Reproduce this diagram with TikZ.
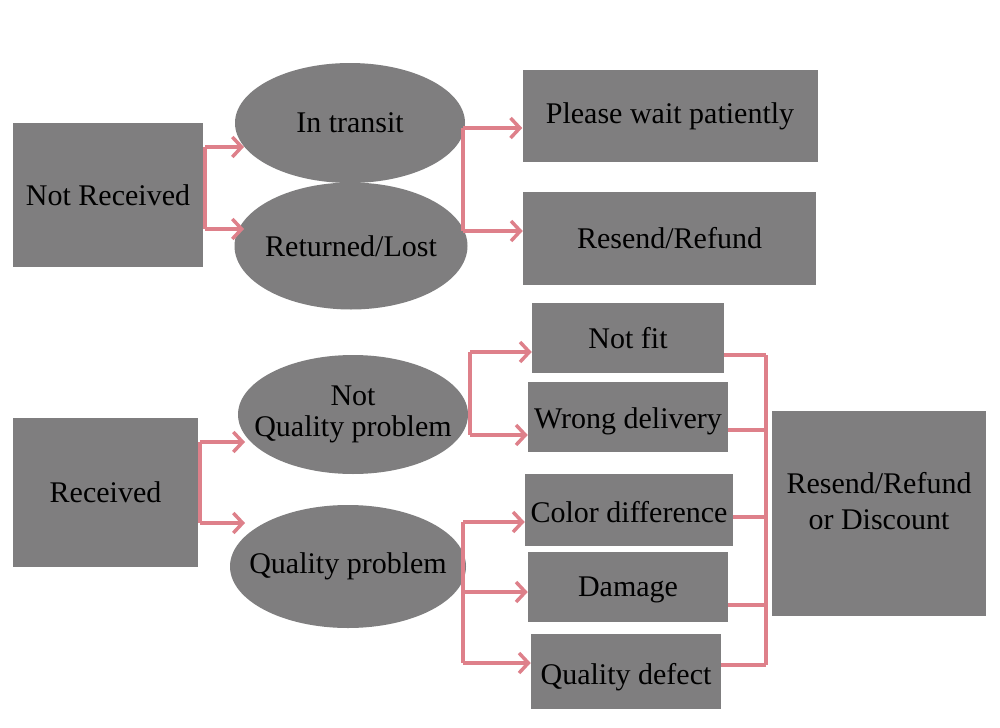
\documentclass[tikz,border=0pt]{standalone}
\usepackage{fontspec}
\setmainfont{Liberation Serif}
\usetikzlibrary{shapes.geometric,arrows.meta}
\definecolor{boxgray}{RGB}{127,126,127}
\definecolor{pinkline}{RGB}{222,128,138}
\newcommand{\shiftv}[2]{\raisebox{#1}[\height][\depth]{#2}}
\begin{document}
\begin{tikzpicture}[x=0.75pt,y=-0.75pt,
  every node/.style={font=\fontsize{22.5}{25}\selectfont, text=black, inner sep=0pt},
  sz/.style 2 args={minimum width=#1*0.75pt, minimum height=#2*0.75pt},
  rbox/.style={rectangle, fill=boxgray, align=center},
  ebox/.style={ellipse, fill=boxgray},
  lbl/.style={font=\fontsize{22.5}{23.5}\selectfont, align=center},
  ln/.style={draw=pinkline, line width=2.8pt},
  arr/.style={ln, -{Straight Barb[length=7pt,width=15pt,line width=2.6pt]}}]
\fill[white] (0,0) rectangle (1000,728);
\useasboundingbox (0,0) rectangle (1000,728);
% nodes
\node[rbox, sz={190}{144}] (nr) at (108,195) {Not Received};
\node[ebox, sz={230}{120}, label={[lbl]center:In transit}] (it) at (350,123) {};
\node[ebox, sz={233}{127}, label={[lbl]center:Returned/Lost}] (rl) at (351,246) {};
\node[rbox, sz={295}{92}] (pw) at (670,116) {Please wait patiently};
\node[rbox, sz={293}{93}] (rr) at (669.5,238.5) {Resend/Refund};
\node[rbox, sz={185}{149}] (rc) at (105.5,492.5) {Received};
\node[ebox, sz={230}{119}, label={[lbl]center:Not\\Quality problem}] (nq) at (353,414.5) {};
\node[ebox, sz={236}{123}, label={[lbl]center:Quality problem}] (qp) at (348,566.5) {};
\node[rbox, sz={192}{70}] (nf) at (628,338) {Not fit};
\node[rbox, sz={200}{70}] (wd) at (628,417) {\shiftv{-3pt}{Wrong delivery}};
\node[rbox, sz={208}{72}] (cd) at (629,510) {\shiftv{-1.5pt}{Color difference}};
\node[rbox, sz={200}{70}] (dm) at (628,587) {\shiftv{-2pt}{Damage}};
\node[rbox, sz={190}{75}] (qd) at (626,671.5) {\shiftv{-4.5pt}{Quality defect}};
\node[rbox, sz={214}{205}, font=\fontsize{22.5}{27}\selectfont] (rd) at (879,513.5) {\shiftv{7pt}{\begin{tabular}{@{}c@{}}Resend/Refund\\or Discount\end{tabular}}};
% top group
\coordinate (j1) at (205,147);
\coordinate (j2) at (205,229);
\draw[ln] (j1) -- (j2);
\draw[arr] (j1) -- (244,147);
\draw[arr] (j2) -- (244,229);
\coordinate (j3) at (463,128);
\coordinate (j4) at (463,231);
\draw[ln] (j3) -- (j4);
\draw[arr] (j3) -- (pw.west |- j3);
\draw[arr] (j4) -- (rr.west |- j4);
% received group
\coordinate (k1) at (200,442);
\coordinate (k2) at (200,523);
\draw[ln] (k1) -- (k2);
\draw[arr] (k1) -- (245,442);
\draw[arr] (k2) -- (245,523);
\coordinate (k3) at (470,352);
\coordinate (k4) at (470,435);
\draw[ln] (k3) -- (k4);
\draw[arr] (k3) -- (nf.west |- k3);
\draw[arr] (k4) -- (wd.west |- k4);
\coordinate (k5) at (463,522);
\coordinate (k6) at (463,592);
\coordinate (k7) at (463,663);
\draw[ln] (k5) -- (k7);
\draw[arr] (k5) -- (cd.west |- k5);
\draw[arr] (k6) -- (dm.west |- k6);
\draw[arr] (k7) -- (qd.west |- k7);
% bracket
\coordinate (b1) at (766,355);
\coordinate (b2) at (766,430);
\coordinate (b3) at (766,517);
\coordinate (b4) at (766,605);
\coordinate (b5) at (766,665);
\draw[ln] (b1) -- (b5);
\draw[ln] (nf.east |- b1) -- (b1);
\draw[ln] (wd.east |- b2) -- (b2);
\draw[ln] (cd.east |- b3) -- (b3);
\draw[ln] (dm.east |- b4) -- (b4);
\draw[ln] (qd.east |- b5) -- (b5);
\end{tikzpicture}
\end{document}
